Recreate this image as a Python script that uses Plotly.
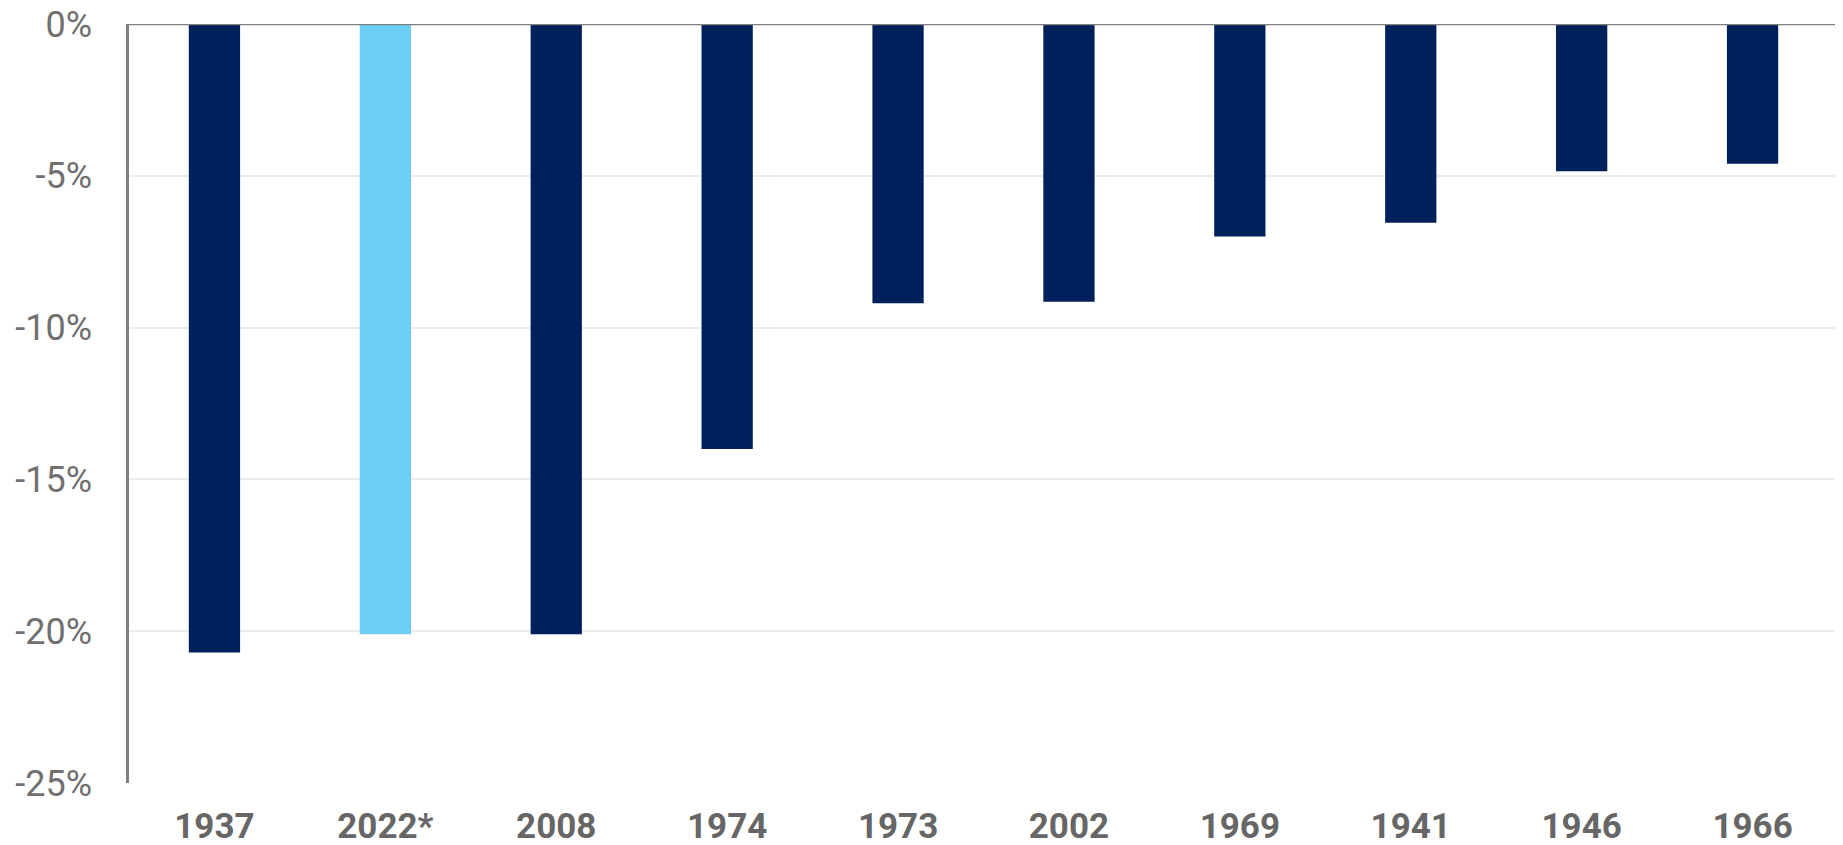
import plotly.graph_objects as go

categories = ["1937", "2022*", "2008", "1974", "1973", "2002", "1969", "1941", "1946", "1966"]
values = [-20.7, -20.1, -20.1, -14.0, -9.2, -9.15, -7.0, -6.55, -4.85, -4.6]
highlight = "2022*"
tick_vals = [0, -5, -10, -15, -20, -25]
tick_text = ["0%", "-5%", "-10%", "-15%", "-20%", "-25%"]

NAVY = "#00205B"
LIGHT = "#6DCFF6"
colors = [LIGHT if c == highlight else NAVY for c in categories]

fig = go.Figure(
    go.Bar(
        x=categories,
        y=values,
        marker=dict(color=colors, line=dict(width=0)),
        hoverinfo="x+y",
    )
)

# page body has an 8px default margin, so the figure is 8px smaller each way
fig.update_layout(
    width=1835,
    height=837,
    margin=dict(l=121, r=5, t=16, b=62, autoexpand=False),
    paper_bgcolor="white",
    plot_bgcolor="white",
    bargap=0.7,
    showlegend=False,
    font=dict(family="Roboto", size=34, color="#6b6b6b"),
    shapes=[
        dict(type="line", xref="paper", yref="y", x0=0, x1=1, y0=0, y1=0,
             line=dict(color="#808080", width=2.5), layer="above")
    ],
)

fig.update_xaxes(
    type="category",
    showgrid=False,
    showline=False,
    zeroline=False,
    ticks="",
    tickfont=dict(family="Roboto", size=35, color="#666666", weight="bold"),
    ticklabelstandoff=19,
    ticklabeloverflow="allow",
    automargin=False,
)

fig.update_yaxes(
    range=[-25, 0],
    tickvals=tick_vals,
    ticktext=tick_text,
    showgrid=True,
    gridcolor="#ececec",
    gridwidth=1.5,
    zeroline=False,
    showline=True,
    linecolor="#808080",
    linewidth=2.5,
    ticks="",
    tickfont=dict(family="Roboto", size=36, color="#707070"),
    ticklabelstandoff=27,
    ticklabeloverflow="allow",
    automargin=False,
)

fig.write_html("out.html")
